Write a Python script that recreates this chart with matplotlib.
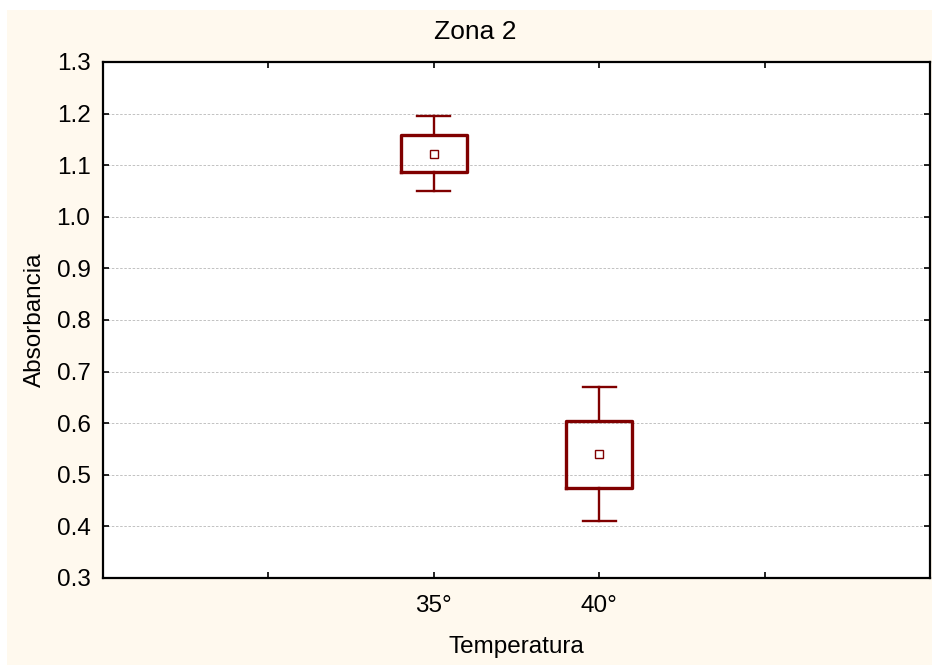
import matplotlib.pyplot as plt
from matplotlib.patches import Rectangle

plt.rcParams['font.family'] = ['Liberation Sans', 'DejaVu Sans']

# Absorbancia por temperatura (media, caja y bigotes)
temperaturas = ["35°", "40°"]
medias = [1.122, 0.540]
caja_sup = [1.159, 0.604]
caja_inf = [1.087, 0.474]
bigote_sup = [1.195, 0.670]
bigote_inf = [1.050, 0.410]

posiciones = [2, 3]
xticks = [1, 2, 3, 4]
xtick_labels = ["", "35°", "40°", ""]
yticks = [0.3, 0.4, 0.5, 0.6, 0.7, 0.8, 0.9, 1.0, 1.1, 1.2, 1.3]

rojo = "#800000"
crema = "#fff9ee"

fig = plt.figure(figsize=(9.32, 6.65), dpi=100, facecolor="white")
# fondo crema bajo la franja blanca superior
fig.patches.append(Rectangle((7 / 932, 0), 1, 1 - 10 / 665, transform=fig.transFigure,
                             facecolor=crema, edgecolor="none", zorder=-10))

ax = fig.add_axes([103 / 932, 87 / 665, 827 / 932, 516 / 665])
ax.set_facecolor("white")

stats = []
for i, nombre in enumerate(temperaturas):
    stats.append(dict(label=nombre, med=medias[i], mean=medias[i],
                      q1=caja_inf[i], q3=caja_sup[i],
                      whislo=bigote_inf[i], whishi=bigote_sup[i], fliers=[]))

ax.bxp(stats, positions=posiciones, widths=0.4, capwidths=0.2, showmeans=True,
       boxprops=dict(color=rojo, linewidth=2.4),
       whiskerprops=dict(color=rojo, linewidth=1.7),
       capprops=dict(color=rojo, linewidth=1.7),
       medianprops=dict(linewidth=0),
       meanprops=dict(marker="s", markersize=6, markerfacecolor="white",
                      markeredgecolor=rojo, markeredgewidth=1.0))

ax.set_xlim(0, 5)
ax.set_ylim(0.3, 1.3)
ax.set_xticks(xticks)
ax.set_xticklabels(xtick_labels)
ax.set_yticks(yticks)
ax.set_yticklabels([f"{v:.1f}" for v in yticks])

ax.yaxis.grid(True, linestyle=(0, (3, 2)), color="#b8b8b8", linewidth=0.6)
ax.set_axisbelow(True)

ax.tick_params(direction="in", length=4, width=1.2, top=True, right=True,
               labelsize=17.5, colors="black")
ax.tick_params(axis="x", pad=12)
ax.tick_params(axis="y", pad=9)
for s in ax.spines.values():
    s.set_linewidth(1.6)
    s.set_color("black")

fig.text(475 / 932, 1 - 32 / 665, "Zona 2", ha="center", va="center", fontsize=19)
fig.text(516 / 932, 1 - 647 / 665, "Temperatura", ha="center", va="center", fontsize=17.5)
fig.text(35 / 932, 1 - 320 / 665, "Absorbancia", ha="center", va="center",
         rotation=90, fontsize=17.5)

fig.savefig("out.png", dpi=100, facecolor=fig.get_facecolor())
